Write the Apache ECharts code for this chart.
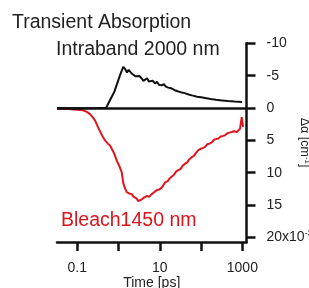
<!DOCTYPE html>
<html>
<head>
	<meta charset="utf-8">
	<title></title>
	<style type="text/css">
		html, body { margin: 0; padding: 0; background: #fff; }
		#main { width: 309px; height: 288px; }
	</style>
	<script src='https://cdn.jsdelivr.net/npm/echarts@6/dist/echarts.min.js'></script>
</head>
<body>
	<div id="main"></div>
	<script type="text/javascript">
		// time [ps], delta alpha [x10^-3 cm^-1]
		var intraband = [
			[0.0322, 0], [0.1, 0.02], [0.3, 0], [0.5, -0.05], [0.546, 0], [0.8, -2.6], [1.1, -5.2],
			[1.3, -6.35], [1.45, -6.0], [1.6, -5.5], [1.75, -5.9], [1.9, -5.8], [2.1, -5.3], [2.3, -5.5],
			[2.6, -4.9], [2.9, -4.6], [3.2, -4.95], [3.6, -4.6], [4.0, -4.2], [4.4, -4.25], [4.9, -4.6],
			[5.4, -4.1], [6.0, -3.9], [6.8, -4.2], [7.6, -3.8], [8.5, -4.05], [9.5, -3.6], [11, -3.5],
			[12.5, -3.7], [14, -3.3], [16, -3.15], [18, -3.1], [20, -2.85], [23, -2.75], [27, -2.6],
			[32, -2.45], [40, -2.3], [50, -2.1], [60, -1.95], [80, -1.75], [100, -1.65], [125, -1.55],
			[170, -1.4], [230, -1.27], [320, -1.18], [450, -1.08], [650, -1.0], [980, -0.93]
		];
		var bleach = [
			[0.0322, 0.1], [0.06, 0.15], [0.1, 0.25], [0.137, 0.35], [0.17, 0.6], [0.2, 0.9],
			[0.235, 1.4], [0.268, 1.9], [0.32, 3.0], [0.38, 4.0], [0.47, 5.0], [0.55, 5.5], [0.62, 5.8],
			[0.68, 6.0], [0.78, 7.0], [0.9, 8.1], [1.05, 9.0], [1.19, 9.9], [1.3, 11.6], [1.45, 12.5],
			[1.58, 13.0], [1.8, 13.2], [2.08, 13.3], [2.3, 13.7], [2.5, 13.5], [2.75, 14.0], [3.01, 14.4],
			[3.3, 14.1], [3.64, 14.1], [4.2, 13.8], [4.81, 13.6], [5.5, 13.7], [6.36, 13.3], [7.3, 13.0],
			[8.41, 12.7], [9.6, 12.6], [11.1, 12.3], [12.3, 12.0], [13.4, 11.5], [15.5, 11.3], [17.7, 10.8],
			[19.4, 10.5], [22, 10.3], [25, 9.8], [28.1, 9.6], [32, 9.4], [36, 8.9], [40.8, 8.6],
			[46, 8.4], [52, 7.9], [59.3, 7.6], [67, 7.4], [76, 6.9], [85.8, 6.5], [97, 6.3], [110, 6.2],
			[125, 6.0], [140, 5.6], [160, 5.5], [181, 5.3], [205, 4.9], [230, 4.8], [262, 4.7], [300, 4.4],
			[340, 4.3], [381, 4.2], [430, 3.9], [490, 3.8], [553, 3.7], [620, 3.6], [680, 3.9], [731, 3.7],
			[800, 3.5], [879, 3.2], [920, 2.3], [967, 1.4], [1000, 2.2], [1040, 2.9]
		];
		var xTicks = [0.1, 1, 10, 100, 1000];
		var xLabels = [0.1, 10, 1000];
		var yTicks = [-10, -5, 0, 5, 10, 15, 20];

		var font = 'Liberation Sans';
		var chart = echarts.init(document.getElementById('main'));
		var option = {
			animation: false,
			textStyle: { fontFamily: font },
			title: [
				{ text: 'Transient Absorption', left: 12, top: 13, padding: 0,
					textStyle: { fontFamily: font, fontSize: 19.5, fontWeight: 'normal', color: '#222' } },
				{ text: 'Intraband 2000 nm', left: 56, top: 40, padding: 0,
					textStyle: { fontFamily: font, fontSize: 19.5, fontWeight: 'normal', color: '#222' } },
				{ text: 'Bleach1450 nm', left: 61, top: 211, padding: 0,
					textStyle: { fontFamily: font, fontSize: 19.5, fontWeight: 'normal', color: '#d9141c' } }
			],
			grid: { left: 57, right: 62.5, top: 43.3, bottom: 46, containLabel: false, outerBoundsMode: 'none' },
			xAxis: {
				type: 'log',
				logBase: 10,
				min: 0.0322,
				max: 1259,
				name: 'Time [ps]',
				nameLocation: 'middle',
				nameGap: 34,
				nameMoveOverlap: false,
				nameTextStyle: { fontFamily: font, fontSize: 14, color: '#222' },
				axisLine: { onZero: false, lineStyle: { color: '#111', width: 2.5 } },
				axisTick: { customValues: xTicks, length: 9, lineStyle: { color: '#111', width: 2.5 } },
				axisLabel: { customValues: xLabels, margin: 19, fontSize: 14, color: '#222',
					formatter: function (v) { return String(v); } },
				splitLine: { show: false }
			},
			yAxis: {
				type: 'value',
				position: 'right',
				inverse: true,
				min: -10,
				max: 20.7,
				name: 'Δα [cm{sup|-1}]',
				nameLocation: 'middle',
				nameRotate: -90,
				nameGap: 50,
				nameMoveOverlap: false,
				nameTextStyle: { fontFamily: font, fontSize: 12.5, color: '#222',
					rich: { sup: { fontSize: 8, padding: [0, 0, 7, 0] } } },
				axisLine: { onZero: false, lineStyle: { color: '#111', width: 2.5 } },
				axisTick: { customValues: yTicks, length: 9, lineStyle: { color: '#111', width: 2.5 } },
				axisLabel: { customValues: yTicks, margin: 20, fontSize: 14, color: '#222',
					formatter: function (v) { return v === 20 ? '20x10{sup|-3}' : String(v); },
					rich: { sup: { fontSize: 9, padding: [0, 0, 8, 0] } } },
				splitLine: { show: false }
			},
			series: [
				{
					name: 'Bleach 1450 nm',
					type: 'line',
					data: bleach,
					showSymbol: false,
					smooth: false,
					lineStyle: { color: '#e0161e', width: 2 }
				},
				{
					name: 'Intraband 2000 nm',
					type: 'line',
					data: intraband,
					showSymbol: false,
					smooth: false,
					lineStyle: { color: '#111', width: 2 },
					markLine: {
						silent: true,
						symbol: 'none',
						label: { show: false },
						lineStyle: { color: '#111', width: 2.5, type: 'solid' },
						data: [{ yAxis: 0 }]
					}
				}
			]
		};
		chart.setOption(option);
		window.onresize = chart.resize;
	</script>
</body>
</html>
